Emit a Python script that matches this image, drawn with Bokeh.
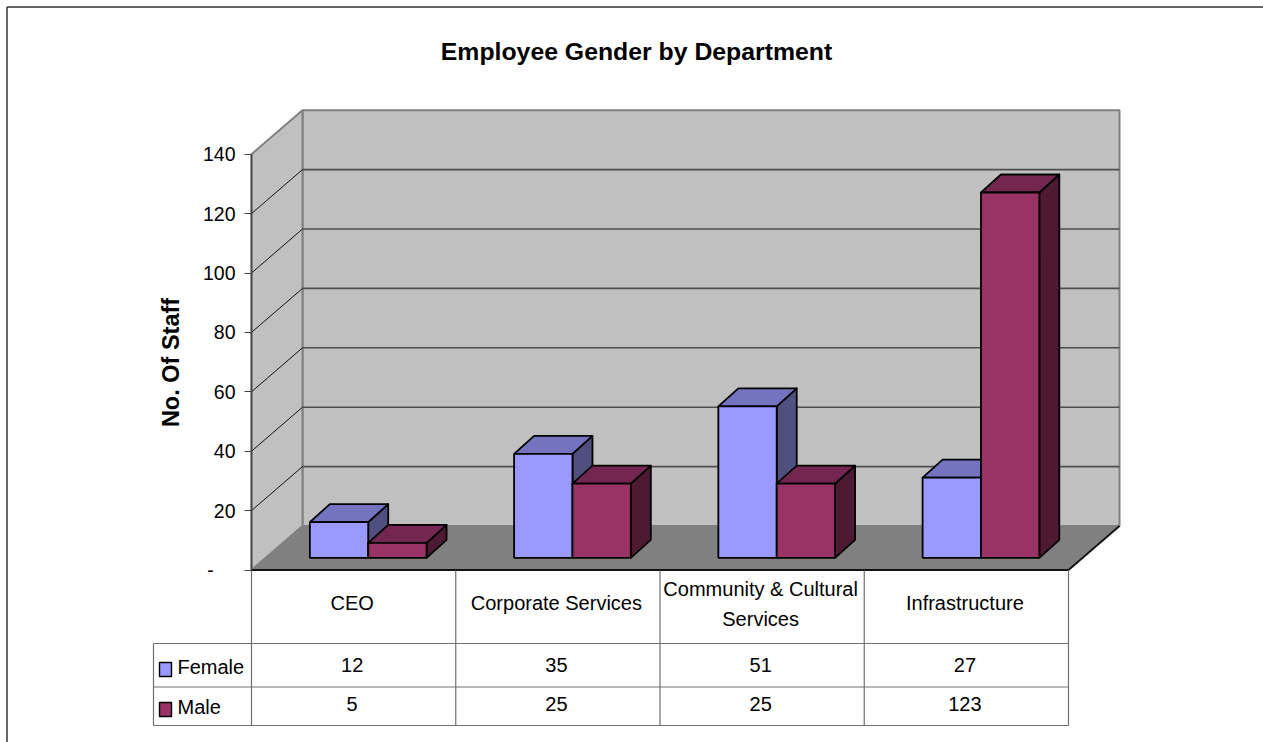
from bokeh.plotting import figure
from bokeh.models import LinearAxis, FixedTicker, Range1d
from bokeh.core.properties import value
from bokeh.embed import file_html
from bokeh.resources import INLINE

categories = ["CEO", "Corporate Services", "Community & Cultural\nServices", "Infrastructure"]
female = [12, 35, 51, 27]
male = [5, 25, 25, 123]
y_ticks = [0, 20, 40, 60, 80, 100, 120, 140]
title = "Employee Gender by Department"
y_title = "No. Of Staff"

FONT = "Liberation Sans"
W, H = 1263, 742
Y0, SCALE = 569.5, 2.97      # pixel row of zero, pixels per staff member


def yp(py):
    """Layout helper: a pixel row expressed in staff units."""
    return (Y0 - py) / SCALE


p = figure(width=W, height=H, output_backend="svg", toolbar_location=None,
           x_range=Range1d(0, W), y_range=Range1d(yp(H), yp(0)),
           x_axis_type=None, y_axis_type=None, min_border=0,
           outline_line_color=None, background_fill_color="white",
           border_fill_color="white")
p.grid.visible = False

# outer frame (only top and left are inside the picture)
p.segment([6.5, 6.5], [yp(6.5), yp(6.5)], [W, 6.5], [yp(6.5), yp(H)], line_color="#333333", line_width=1.5)

# walls and floor
X_FRONT_L, X_FRONT_R = 251, 1068
DX, DY = 51, 44 / SCALE
VMAX = y_ticks[-1]
p.patch([X_FRONT_L + DX, X_FRONT_R + DX, X_FRONT_R + DX, X_FRONT_L + DX],
        [DY, DY, VMAX + DY, VMAX + DY], fill_color="#C0C0C0", line_color="#808080", line_width=2)
p.patch([X_FRONT_L, X_FRONT_L + DX, X_FRONT_L + DX, X_FRONT_L],
        [0, DY, VMAX + DY, VMAX], fill_color="#C0C0C0", line_color="#808080", line_width=2)

grid_ticks = y_ticks[1:-1]
p.segment([X_FRONT_L + DX] * len(grid_ticks), [t + DY for t in grid_ticks],
          [X_FRONT_R + DX] * len(grid_ticks), [t + DY for t in grid_ticks],
          line_color="#4d4d4d", line_width=1.6)
p.segment([X_FRONT_L] * len(grid_ticks), grid_ticks,
          [X_FRONT_L + DX] * len(grid_ticks), [t + DY for t in grid_ticks],
          line_color="#111111", line_width=1)

p.patch([X_FRONT_L, X_FRONT_R, X_FRONT_R + DX, X_FRONT_L + DX], [0, 0, DY, DY],
        fill_color="#808080", line_color="#808080", line_width=1)
p.segment([X_FRONT_L, X_FRONT_R], [0, 0], [X_FRONT_R, X_FRONT_R + DX], [0, DY],
          line_color="#111111", line_width=1.8)

# bars
CAT_W = (X_FRONT_R - X_FRONT_L) / len(categories)
BAR_W = CAT_W / 3.5
BASE = (Y0 - 557.3) / SCALE
BDX, BDY = 20, 18 / SCALE
styles = [("#9999FF", "#7373BF", "#505080"), ("#993366", "#732650", "#4D1933")]
for i, (f, m) in enumerate(zip(female, male)):
    for j, v in enumerate((f, m)):
        front, top_c, side = styles[j]
        x0 = X_FRONT_L + i * CAT_W + BAR_W * (1 + j)
        x1 = x0 + BAR_W
        t = BASE + v
        p.patch([x1, x1 + BDX, x1 + BDX, x1], [BASE, BASE + BDY, t + BDY, t],
                fill_color=side, line_color="black", line_width=1.8, line_join="round")
        p.patch([x0, x1, x1 + BDX, x0 + BDX], [t, t, t + BDY, t + BDY],
                fill_color=top_c, line_color="black", line_width=1.8, line_join="round")
        p.quad(left=[x0], right=[x1], bottom=[BASE], top=[t],
               fill_color=front, line_color="black", line_width=1.8)

# value axis
ax = LinearAxis(ticker=FixedTicker(ticks=y_ticks), bounds=(0, VMAX), fixed_location=X_FRONT_L)
ax.major_label_overrides = {0: "-\u00a0\u00a0\u00a0\u00a0"}
ax.axis_line_color = "#444444"
ax.axis_line_width = 1.6
ax.major_tick_line_color = "#444444"
ax.major_tick_in = 0
ax.major_tick_out = 7
ax.minor_tick_line_color = None
ax.major_label_text_font = FONT
ax.major_label_text_font_size = "19.5px"
ax.major_label_text_color = "black"
ax.major_label_standoff = 9
ax.axis_label = y_title
ax.axis_label_text_font = FONT
ax.axis_label_text_font_style = "bold"
ax.axis_label_text_font_size = "23.5px"
ax.axis_label_text_color = "black"
ax.axis_label_standoff = 16
p.add_layout(ax, "left")

# data table grid
COLS = [X_FRONT_L + i * CAT_W for i in range(len(categories) + 1)]
TBL_L = 153
grid = "#707070"
p.segment(COLS, [yp(570)] * len(COLS), COLS, [yp(725)] * len(COLS), line_color=grid, line_width=1.2)
p.segment([TBL_L], [yp(643)], [TBL_L], [yp(725)], line_color=grid, line_width=1.2)
p.segment([TBL_L, TBL_L, TBL_L], [yp(643), yp(686.5), yp(725)],
          [X_FRONT_R, X_FRONT_R, X_FRONT_R], [yp(643), yp(686.5), yp(725)], line_color=grid, line_width=1.2)

centres = [X_FRONT_L + (i + 0.5) * CAT_W - 1.5 for i in range(len(categories))]
tx, ty, tt = [], [], []
for c, name in zip(centres, categories):
    lines = name.split("\n")
    rows = [602.5] if len(lines) == 1 else [588.5, 618.5]
    for ln, r in zip(lines, rows):
        tx.append(c); ty.append(yp(r)); tt.append(ln)
for c, f, m in zip(centres, female, male):
    tx += [c, c]
    ty += [yp(664.5), yp(703.5)]
    tt += [str(f), str(m)]
p.text(x=tx, y=ty, text=tt, text_align="center", text_baseline="middle", text_color="black",
       text_font=value(FONT), text_font_size="20px")

# legend keys in table
p.quad(left=[159, 159], right=[171, 171], bottom=[yp(676), yp(716)], top=[yp(662), yp(702)],
       fill_color=[styles[0][0], styles[1][0]], line_color="black", line_width=1.4)
p.text(x=[177, 177], y=[yp(666), yp(706)], text=["Female", "Male"], text_align="left", text_baseline="middle",
       text_color="black", text_font=value(FONT), text_font_size="20px")

# title
p.text(x=[636], y=[yp(51)], text=[title], text_align="center", text_baseline="middle", text_color="black",
       text_font=value(FONT), text_font_style="bold", text_font_size="24.8px")

open("out.html", "w").write(file_html(p, INLINE))
